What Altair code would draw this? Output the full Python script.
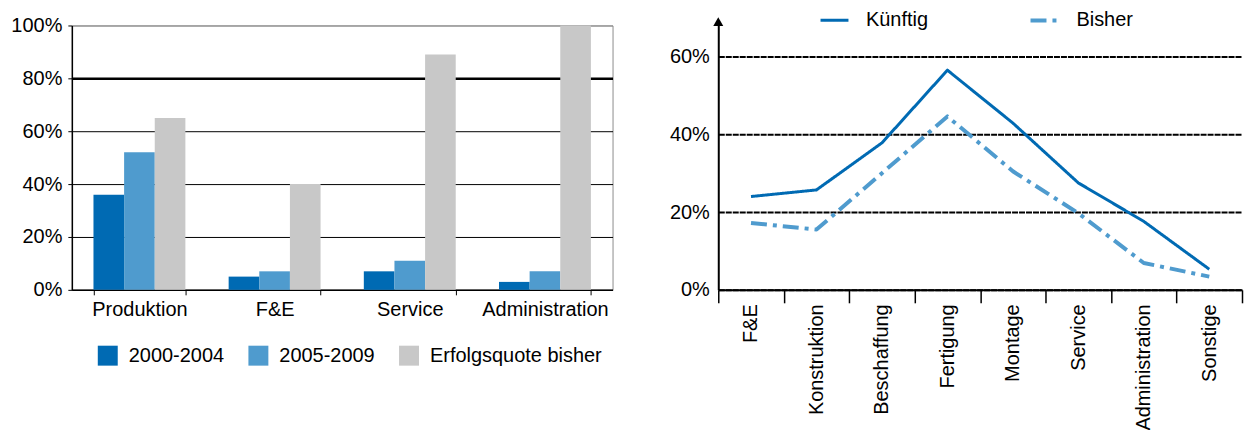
import altair as alt
import pandas as pd

# ---------------- left chart data ----------------
bar_categories = ["Produktion", "F&E", "Service", "Administration"]
bar_series = ["2000-2004", "2005-2009", "Erfolgsquote bisher"]
values_2000_2004 = [0.36, 0.05, 0.07, 0.03]
values_2005_2009 = [0.52, 0.07, 0.11, 0.07]
values_erfolgsquote = [0.65, 0.40, 0.89, 1.00]
bar_colors = ["#006AB3", "#4F9BCE", "#C8C8C8"]
bar_ticks = [0, 0.2, 0.4, 0.6, 0.8, 1.0]

# ---------------- right chart data ----------------
line_categories = ["F&E", "Konstruktion", "Beschaffung", "Fertigung",
                   "Montage", "Service", "Administration", "Sonstige"]
line_series = ["Künftig", "Bisher"]
values_kuenftig = [0.24, 0.257, 0.378, 0.565, 0.429, 0.275, 0.176, 0.053]
values_bisher = [0.172, 0.155, 0.30, 0.446, 0.305, 0.197, 0.069, 0.034]
line_colors = ["#006AB3", "#4F9BCE"]
line_ticks = [0, 0.2, 0.4, 0.6]
arrow_value = [0.69]

FONT = "Liberation Sans"

bar_rows = []
for s, vals in zip(bar_series, [values_2000_2004, values_2005_2009, values_erfolgsquote]):
    for c, v in zip(bar_categories, vals):
        bar_rows.append({"Kategorie": c, "Reihe": s, "Wert": v})
bars_df = pd.DataFrame(bar_rows)

line_rows = []
for s, vals in zip(line_series, [values_kuenftig, values_bisher]):
    for c, v in zip(line_categories, vals):
        line_rows.append({"Bereich": c, "Serie": s, "Anteil": v})
lines_df = pd.DataFrame(line_rows)

left = alt.Chart(bars_df).mark_bar().encode(
    x=alt.X("Kategorie:N", sort=bar_categories,
            scale=alt.Scale(paddingInner=0.32, paddingOuter=0.16),
            axis=alt.Axis(title=None, labelAngle=0, tickBand="extent", tickSize=5,
                          labelPadding=5, domainColor="black", tickColor="black",
                          domainWidth=1.5, labelFontSize=20, labelColor="black",
                          labelFont=FONT, grid=False)),
    xOffset=alt.XOffset("Reihe:N", sort=bar_series,
                        scale=alt.Scale(paddingInner=0, paddingOuter=0)),
    y=alt.Y("Wert:Q", scale=alt.Scale(domain=[0, 1], nice=False),
            axis=alt.Axis(title=None, format=".0%", values=bar_ticks, tickSize=4,
                          labelPadding=6, labelFontSize=20, labelColor="black",
                          labelFont=FONT, domainColor="black", tickColor="black",
                          domainWidth=1.5, grid=True,
                          gridColor={"condition": {"test": "datum.value >= 0.99", "value": "#8c8c8c"},
                                     "value": "black"},
                          gridWidth={"condition": {"test": "abs(datum.value - 0.8) < 0.01", "value": 2.5},
                                     "value": 1})),
    color=alt.Color("Reihe:N", sort=bar_series,
                    scale=alt.Scale(domain=bar_series, range=bar_colors),
                    legend=alt.Legend(title=None, orient="none", legendX=26, legendY=321,
                                      direction="horizontal", symbolType="square",
                                      symbolSize=400, symbolStrokeWidth=0, padding=0,
                                      labelFontSize=20, labelFont=FONT, labelColor="black",
                                      labelOffset=11, columnPadding=24, labelLimit=300)),
).properties(width=542, height=265,
             view=alt.ViewBackground(stroke="#8c8c8c", strokeWidth=1))

line_legend = alt.Legend(title=None, orient="none", legendX=101, legendY=-21,
                         direction="horizontal", symbolType="stroke", padding=0,
                         symbolSize=784, symbolStrokeWidth=4,
                         labelFontSize=20, labelFont=FONT, labelColor="black",
                         labelOffset=16, columnPadding=94)

lines = alt.Chart(lines_df).mark_line(strokeJoin="round").encode(
    x=alt.X("Bereich:N", sort=line_categories,
            scale=alt.Scale(type="band", paddingInner=0, paddingOuter=0),
            axis=alt.Axis(title=None, labelAngle=-90, tickBand="extent", tickSize=13,
                          labelPadding=1, domainColor="black", domainWidth=2,
                          tickColor="black", tickWidth=1.5, labelFontSize=20,
                          labelColor="black", labelFont=FONT, grid=False)),
    y=alt.Y("Anteil:Q", scale=alt.Scale(domain=[0, 0.68], nice=False),
            axis=alt.Axis(title=None, format=".0%", values=line_ticks, ticks=False,
                          labelPadding=9, labelFontSize=20, labelColor="black",
                          labelFont=FONT, domainColor="black", domainWidth=2,
                          grid=True, gridColor="black", gridDash=[6, 1], gridWidth=2)),
    color=alt.Color("Serie:N", sort=line_series,
                    scale=alt.Scale(domain=line_series, range=line_colors),
                    legend=line_legend),
    strokeDash=alt.StrokeDash("Serie:N", sort=line_series,
                              scale=alt.Scale(domain=line_series, range=[[1, 0], [16, 6, 4, 6]]),
                              legend=line_legend),
    strokeWidth=alt.StrokeWidth("Serie:N", sort=line_series,
                                scale=alt.Scale(domain=line_series, range=[3, 4]), legend=None),
)

arrow = alt.Chart(pd.DataFrame({"pos": arrow_value})).mark_point(
    shape="triangle-up", filled=True, size=100, color="black", opacity=1
).encode(x=alt.value(0), y=alt.Y("pos:Q"))

right = alt.layer(lines, arrow).properties(
    width=525, height=265, view=alt.ViewBackground(stroke="transparent"))

chart = alt.hconcat(left, right, spacing=106, bounds="flush").resolve_scale(
    color="independent", strokeDash="independent", strokeWidth="independent"
).properties(padding={"left": 2, "top": -5, "right": 0, "bottom": 0})

chart.save("out.html", embed_options={"renderer": "svg", "actions": False})
